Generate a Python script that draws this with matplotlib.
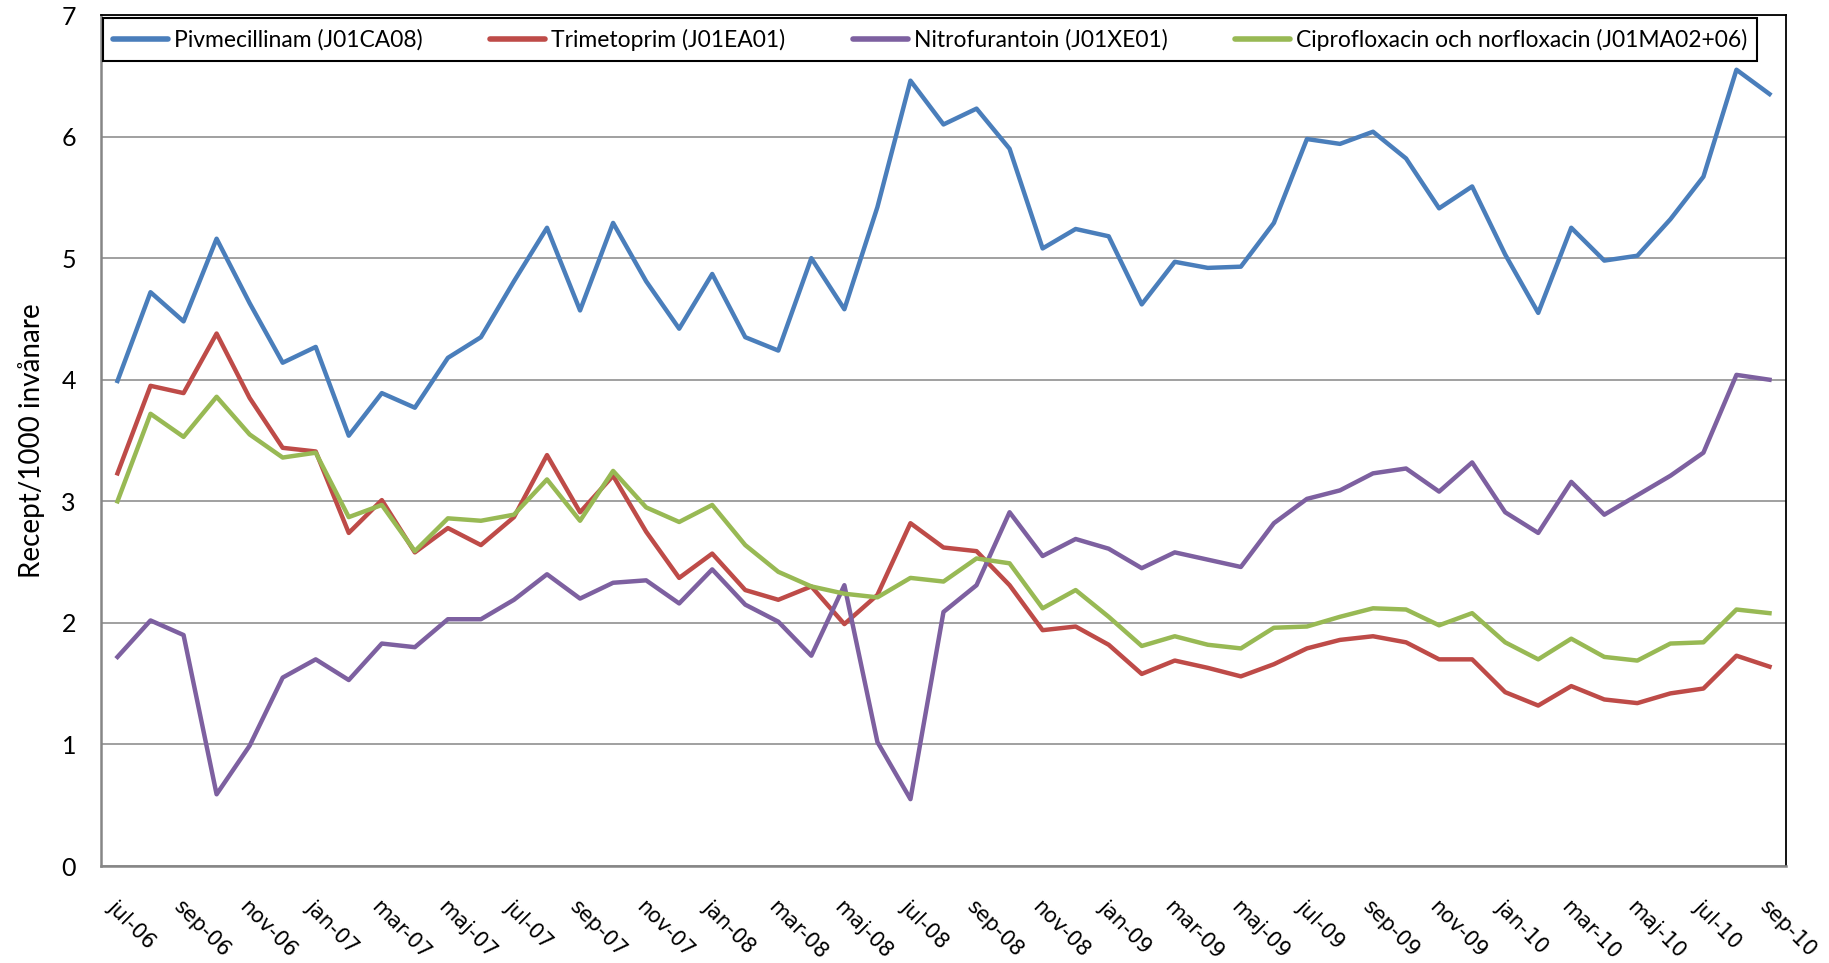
import numpy as np
import matplotlib.pyplot as plt

months = ["jul", "aug", "sep", "okt", "nov", "dec", "jan", "feb", "mar", "apr", "maj", "jun"]
years = [6] * 6 + [7] * 12 + [8] * 12 + [9] * 12 + [10] * 9
labels = [f"{months[i % 12]}-{y:02d}" for i, y in enumerate(years)]

pivmecillinam = [3.99, 4.72, 4.48, 5.16, 4.63, 4.14, 4.27, 3.54, 3.89, 3.77,
                 4.18, 4.35, 4.81, 5.25, 4.57, 5.29, 4.81, 4.42, 4.87, 4.35,
                 4.24, 5.00, 4.58, 5.42, 6.46, 6.10, 6.23, 5.90, 5.08, 5.24,
                 5.18, 4.62, 4.97, 4.92, 4.93, 5.29, 5.98, 5.94, 6.04, 5.82,
                 5.41, 5.59, 5.03, 4.55, 5.25, 4.98, 5.02, 5.32, 5.67, 6.55, 6.35]
trimetoprim = [3.23, 3.95, 3.89, 4.38, 3.85, 3.44, 3.41, 2.74, 3.01, 2.58,
               2.78, 2.64, 2.87, 3.38, 2.91, 3.21, 2.75, 2.37, 2.57, 2.27,
               2.19, 2.30, 1.99, 2.23, 2.82, 2.62, 2.59, 2.31, 1.94, 1.97,
               1.82, 1.58, 1.69, 1.63, 1.56, 1.66, 1.79, 1.86, 1.89, 1.84,
               1.70, 1.70, 1.43, 1.32, 1.48, 1.37, 1.34, 1.42, 1.46, 1.73, 1.64]
nitrofurantoin = [1.72, 2.02, 1.90, 0.59, 0.99, 1.55, 1.70, 1.53, 1.83, 1.80,
                  2.03, 2.03, 2.19, 2.40, 2.20, 2.33, 2.35, 2.16, 2.44, 2.15,
                  2.01, 1.73, 2.31, 1.02, 0.55, 2.09, 2.31, 2.91, 2.55, 2.69,
                  2.61, 2.45, 2.58, 2.52, 2.46, 2.82, 3.02, 3.09, 3.23, 3.27,
                  3.08, 3.32, 2.91, 2.74, 3.16, 2.89, 3.05, 3.21, 3.40, 4.04, 4.00]
cipro_norflox = [3.00, 3.72, 3.53, 3.86, 3.55, 3.36, 3.40, 2.87, 2.97, 2.59,
                 2.86, 2.84, 2.89, 3.18, 2.84, 3.25, 2.95, 2.83, 2.97, 2.64,
                 2.42, 2.30, 2.24, 2.21, 2.37, 2.34, 2.53, 2.49, 2.12, 2.27,
                 2.05, 1.81, 1.89, 1.82, 1.79, 1.96, 1.97, 2.05, 2.12, 2.11,
                 1.98, 2.08, 1.84, 1.70, 1.87, 1.72, 1.69, 1.83, 1.84, 2.11, 2.08]

series = [
    ("Pivmecillinam (J01CA08)", pivmecillinam, "#4A7EBB"),
    ("Trimetoprim (J01EA01)", trimetoprim, "#BE4B48"),
    ("Nitrofurantoin (J01XE01)", nitrofurantoin, "#7D60A0"),
    ("Ciprofloxacin och norfloxacin (J01MA02+06)", cipro_norflox, "#98B954"),
]

plt.rcParams["font.family"] = ["Lato", "DejaVu Sans"]

fig = plt.figure(figsize=(18.29, 9.63), dpi=100)
ax = fig.add_axes([0.0552, 0.1007, 0.9213, 0.8837])

x = np.arange(len(labels))
for name, vals, col in series:
    ax.plot(x, vals, color=col, lw=3.2, label=name)

ax.set_xlim(-0.5, len(labels) - 0.5)
ax.set_ylim(0, 7)
ax.set_yticks(range(8))
ax.yaxis.grid(True, color="#868686", lw=1.1)
ax.set_axisbelow(True)

ax.set_xticks(x[::2])
ax.set_xticklabels(labels[::2], rotation=-45, ha="left", va="top",
                   rotation_mode="anchor", fontsize=15, family="DejaVu Sans")
ax.tick_params(axis="x", length=0, pad=22)
ax.tick_params(axis="y", length=0, pad=18, labelsize=18)
ax.set_ylabel("Recept/1000 invånare", fontsize=20, labelpad=12)

for s in ["left", "bottom"]:
    ax.spines[s].set_color("#868686")
    ax.spines[s].set_linewidth(1.8)
for s in ["top", "right"]:
    ax.spines[s].set_color("black")
    ax.spines[s].set_linewidth(1.3)

leg = ax.legend(loc="lower left", bbox_to_anchor=(0.001, 0.946, 0.982, 0.054),
                mode="expand", ncol=4, fontsize=16.5, handlelength=2.4,
                handletextpad=0.25, borderpad=0.45, borderaxespad=0,
                fancybox=False, framealpha=1, edgecolor="black")
leg.get_frame().set_linewidth(1.5)
for h in leg.get_lines():
    h.set_linewidth(4)
    h.set_solid_capstyle("round")

fig.savefig("out.png", dpi=100)
